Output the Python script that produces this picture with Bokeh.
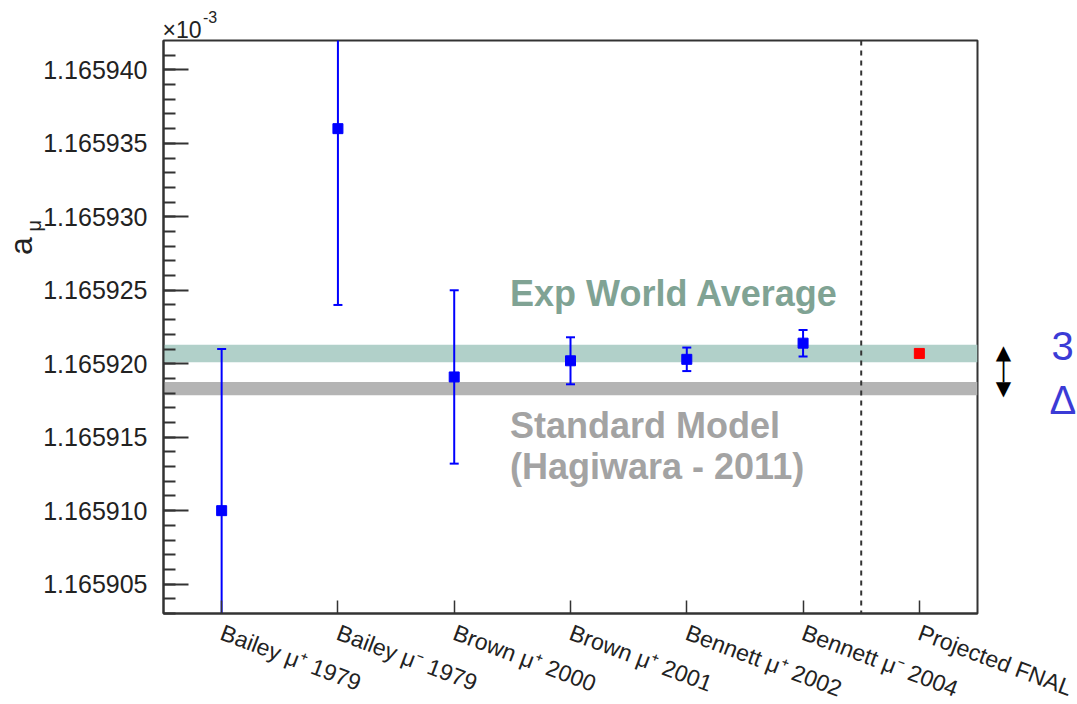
from math import pi

from bokeh.embed import file_html
from bokeh.resources import INLINE
from bokeh.plotting import figure
from bokeh.models import (FactorRange, Range1d, SingleIntervalTicker, PrintfTickFormatter,
                          BoxAnnotation, Span, Label)

# Muon anomalous magnetic moment measurements (values in units of 1e-3)
experiments = ["Bailey μ⁺ 1979", "Bailey μ⁻ 1979", "Brown μ⁺ 2000", "Brown μ⁺ 2001",
               "Bennett μ⁺ 2002", "Bennett μ⁻ 2004"]
a_mu = [1.165910, 1.165936, 1.1659191, 1.1659202, 1.1659203, 1.1659214]
a_mu_err = [0.000011, 0.000012, 0.0000059, 0.0000016, 0.0000008, 0.0000009]

projected = ["Projected FNAL"]
projected_value = [1.1659207]

categories = experiments + projected

# Bands: experimental world average and Standard Model prediction
exp_avg, exp_avg_err = 1.1659207, 0.0000006
sm_value, sm_err = 1.1659183, 0.00000045

y_start, y_end = 1.165903, 1.165942

FONT = "Liberation Sans"
BLUE = "#0000ff"

p = figure(x_range=FactorRange(*categories), y_range=Range1d(y_start, y_end),
           frame_width=814, frame_height=573,
           min_border_left=163, min_border_right=100, min_border_top=40, min_border_bottom=91,
           output_backend="svg", toolbar_location=None, background_fill_color="white",
           border_fill_color="white")

p.xgrid.visible = False
p.ygrid.visible = False
p.outline_line_color = "#333333"
p.outline_line_width = 2

# y axis
ya = p.yaxis[0]
ya.ticker = SingleIntervalTicker(interval=0.000005, num_minor_ticks=5)
ya.formatter = PrintfTickFormatter(format="%.6f")
ya.major_tick_in = 25
ya.major_tick_out = 0
ya.minor_tick_in = 12
ya.minor_tick_out = 0
ya.major_tick_line_width = 2
ya.minor_tick_line_width = 2
ya.major_tick_line_color = "#333333"
ya.minor_tick_line_color = "#333333"
ya.axis_line_width = 2
ya.axis_line_color = "#333333"
ya.major_label_text_font = FONT
ya.major_label_text_font_size = "25px"
ya.major_label_text_color = "#222222"
ya.major_label_standoff = 16

# x axis
xa = p.xaxis[0]
xa.major_tick_in = 13
xa.major_tick_out = 0
xa.major_tick_line_width = 1.5
xa.major_tick_line_color = "#333333"
xa.axis_line_width = 2
xa.axis_line_color = "#333333"
xa.major_label_orientation = -0.36
xa.major_label_text_font = FONT
xa.major_label_text_font_size = "23px"
xa.major_label_text_color = "#222222"
xa.major_label_standoff = 18

# bands
p.add_layout(BoxAnnotation(bottom=exp_avg - exp_avg_err, top=exp_avg + exp_avg_err,
                           fill_color="#b1d0c9", fill_alpha=1, line_alpha=0, level="underlay"))
p.add_layout(BoxAnnotation(bottom=sm_value - sm_err, top=sm_value + sm_err,
                           fill_color="#b4b4b4", fill_alpha=1, line_alpha=0, level="underlay"))

# separator between past measurements and projection
p.add_layout(Span(location=len(experiments), dimension="height", line_color="#333333",
                  line_width=2, line_dash="5 5"))

# error bars with caps
lower = [v - e for v, e in zip(a_mu, a_mu_err)]
upper = [v + e for v, e in zip(a_mu, a_mu_err)]
p.segment(x0=experiments, y0=lower, x1=experiments, y1=upper, line_color=BLUE, line_width=2)
p.scatter(x=experiments, y=lower, marker="dash", size=9, line_color=BLUE, line_width=2)
p.scatter(x=experiments, y=upper, marker="dash", size=9, line_color=BLUE, line_width=2)

# central values
p.scatter(x=experiments, y=a_mu, marker="square", size=10, fill_color=BLUE, line_color=BLUE)
p.scatter(x=projected, y=projected_value, marker="square", size=10,
          fill_color="#ff0000", line_color="#ff0000")

# band captions
p.add_layout(Label(x=2.98, y=1.1659248, text="Exp World Average", text_font=FONT,
                   text_font_style="bold", text_font_size="36px", text_color="#80a394",
                   text_baseline="middle", text_align="left"))
p.add_layout(Label(x=2.98, y=1.1659158, text="Standard Model", text_font=FONT,
                   text_font_style="bold", text_font_size="36px", text_color="#a3a3a3",
                   text_baseline="middle", text_align="left"))
p.add_layout(Label(x=2.98, y=1.165913, text="(Hagiwara - 2011)", text_font=FONT,
                   text_font_style="bold", text_font_size="36px", text_color="#a3a3a3",
                   text_baseline="middle", text_align="left"))


def margin_label(x, y, text, size, color="#222222", font=FONT, angle=0.0, dy=0):
    """Text drawn outside the plot frame, placed in data coordinates."""
    p.add_layout(Label(x=x, y=y, y_offset=dy, text=text, text_font=font,
                       text_font_size=size, text_color=color, angle=angle,
                       text_align="center", text_baseline="middle"), "right")


gap_top, gap_bottom = exp_avg + exp_avg_err, sm_value - sm_err

# axis multiplier
margin_label(0.16, y_end, "×10", "23px", dy=11)
margin_label(0.40, y_end, "-3", "16px", dy=24)

# y axis title a_mu
margin_label(-1.225, 1.165928, "a", "32px", angle=pi / 2)
margin_label(-1.11, 1.1659294, "μ", "20px", angle=pi / 2)

# double arrow between the two bands and the 3 sigma note
margin_label(7.223, gap_top, "▲", "20px", color="black", font="DejaVu Sans", dy=-7)
margin_label(7.223, gap_bottom, "▼", "20px", color="black", font="DejaVu Sans", dy=7)
margin_label(7.223, (gap_top + gap_bottom) / 2, "│", "22px", color="black", font="DejaVu Sans")
margin_label(7.731, 1.1659212, "3", "40px", color="#3b3bd6")
margin_label(7.735, 1.1659175, "Δ", "40px", color="#3b3bd6")

open("out.html", "w").write(file_html(p, INLINE))
